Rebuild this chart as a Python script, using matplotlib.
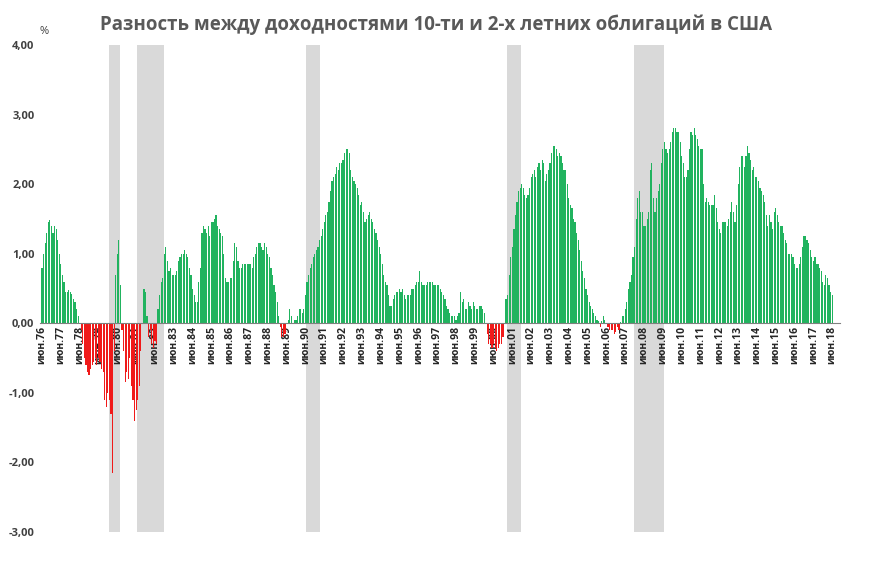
import numpy as np
import matplotlib.pyplot as plt

plt.rcParams['font.family'] = 'sans-serif'
plt.rcParams['font.sans-serif'] = ['Open Sans', 'DejaVu Sans']

# monthly spread 10y - 2y, %, starting June 1976
spread_1976 = [0.8, 1.0, 1.15, 1.3, 1.45, 1.48, 1.4]
spread_1977 = [1.3, 1.4, 1.35, 1.2, 1.0, 0.85, 0.7, 0.6, 0.45, 0.45, 0.48, 0.45]
spread_1978 = [0.42, 0.35, 0.3, 0.2, 0.1, 0.0, -0.1, -0.3, -0.5, -0.6, -0.7, -0.75]
spread_1979 = [-0.65, -0.6, -0.55, -0.5, -0.6, -0.5, -0.55, -0.65, -0.7, -1.1, -1.2, -1.0]
spread_1980 = [-1.1, -1.3, -2.15, -0.4, 0.7, 1.0, 1.2, 0.55, -0.1, -0.4, -0.85, -0.7]
spread_1981 = [-0.8, -0.5, -0.9, -1.1, -1.4, -1.25, -1.1, -0.9, -0.4, 0.0, 0.5, 0.45]
spread_1982 = [0.1, -0.2, -0.1, -0.3, -0.35, -0.25, -0.3, 0.2, 0.4, 0.6, 0.65, 1.0]
spread_1983 = [1.1, 0.9, 0.75, 0.8, 0.7, 0.7, 0.7, 0.75, 0.9, 0.95, 1.0, 1.0]
spread_1984 = [1.05, 1.0, 0.95, 0.8, 0.7, 0.5, 0.4, 0.3, 0.3, 0.6, 0.8, 1.3]
spread_1985 = [1.4, 1.35, 1.3, 1.4, 1.25, 1.45, 1.45, 1.5, 1.55, 1.4, 1.35, 1.3]
spread_1986 = [1.25, 1.0, 0.65, 0.6, 0.6, 0.65, 0.65, 0.9, 1.15, 1.1, 0.9, 0.8]
spread_1987 = [0.8, 0.85, 0.85, 0.85, 0.85, 0.85, 0.85, 0.8, 0.95, 1.0, 1.1, 1.15]
spread_1988 = [1.15, 1.1, 1.05, 1.15, 1.1, 1.0, 0.95, 0.8, 0.7, 0.55, 0.45, 0.3]
spread_1989 = [0.1, -0.05, -0.2, -0.2, -0.15, 0.0, 0.05, 0.2, 0.1, 0.0, 0.05, 0.05]
spread_1990 = [0.1, 0.2, 0.2, 0.15, 0.2, 0.4, 0.6, 0.7, 0.8, 0.85, 0.95, 1.0]
spread_1991 = [1.05, 1.1, 1.2, 1.25, 1.35, 1.45, 1.55, 1.6, 1.75, 1.9, 2.05, 2.1]
spread_1992 = [2.15, 2.25, 2.2, 2.3, 2.3, 2.35, 2.45, 2.5, 2.5, 2.45, 2.2, 2.1]
spread_1993 = [2.05, 2.0, 1.95, 1.85, 1.7, 1.75, 1.6, 1.45, 1.5, 1.55, 1.6, 1.5]
spread_1994 = [1.45, 1.35, 1.3, 1.2, 1.1, 1.0, 0.85, 0.7, 0.6, 0.55, 0.4, 0.25]
spread_1995 = [0.25, 0.35, 0.4, 0.45, 0.45, 0.5, 0.45, 0.5, 0.4, 0.35, 0.4, 0.4]
spread_1996 = [0.4, 0.5, 0.5, 0.55, 0.6, 0.6, 0.75, 0.6, 0.55, 0.55, 0.55, 0.6]
spread_1997 = [0.6, 0.6, 0.6, 0.55, 0.55, 0.55, 0.55, 0.5, 0.45, 0.4, 0.35, 0.25]
spread_1998 = [0.2, 0.15, 0.1, 0.1, 0.1, 0.05, 0.1, 0.15, 0.45, 0.3, 0.35, 0.2]
spread_1999 = [0.2, 0.3, 0.25, 0.2, 0.3, 0.25, 0.2, 0.2, 0.25, 0.25, 0.2, 0.15]
spread_2000 = [0.0, -0.15, -0.3, -0.3, -0.35, -0.3, -0.35, -0.4, -0.35, -0.3, -0.3, -0.2]
spread_2001 = [0.0, 0.35, 0.4, 0.7, 0.95, 1.1, 1.35, 1.55, 1.75, 1.9, 1.95, 2.0]
spread_2002 = [1.95, 1.85, 1.8, 1.85, 1.95, 2.1, 2.15, 2.2, 2.1, 2.25, 2.3, 2.2]
spread_2003 = [2.35, 2.3, 2.05, 2.15, 2.2, 2.3, 2.45, 2.55, 2.55, 2.5, 2.4, 2.45]
spread_2004 = [2.4, 2.3, 2.2, 2.2, 2.0, 1.8, 1.7, 1.65, 1.5, 1.45, 1.3, 1.2]
spread_2005 = [1.05, 0.9, 0.75, 0.65, 0.5, 0.4, 0.3, 0.25, 0.2, 0.15, 0.1, 0.05]
spread_2006 = [0.03, -0.05, 0.03, 0.1, 0.05, 0.0, -0.05, -0.1, -0.1, -0.1, -0.15, -0.12]
spread_2007 = [-0.05, -0.1, 0.02, 0.1, 0.1, 0.2, 0.3, 0.5, 0.6, 0.7, 0.95, 1.1]
spread_2008 = [1.5, 1.8, 1.9, 1.6, 1.6, 1.4, 1.4, 1.5, 1.6, 2.2, 2.3, 1.8]
spread_2009 = [1.6, 1.8, 1.9, 2.0, 2.3, 2.5, 2.6, 2.5, 2.45, 2.5, 2.6, 2.75]
spread_2010 = [2.8, 2.8, 2.75, 2.75, 2.6, 2.4, 2.3, 2.1, 2.1, 2.2, 2.5, 2.75]
spread_2011 = [2.7, 2.8, 2.7, 2.65, 2.55, 2.5, 2.5, 2.0, 1.75, 1.8, 1.75, 1.7]
spread_2012 = [1.7, 1.7, 1.85, 1.65, 1.45, 1.35, 1.3, 1.45, 1.45, 1.45, 1.4, 1.5]
spread_2013 = [1.6, 1.75, 1.6, 1.45, 1.7, 2.0, 2.25, 2.4, 2.4, 2.25, 2.4, 2.55]
spread_2014 = [2.45, 2.35, 2.2, 2.25, 2.1, 2.1, 2.05, 1.95, 1.9, 1.85, 1.75, 1.55]
spread_2015 = [1.4, 1.55, 1.45, 1.35, 1.6, 1.65, 1.55, 1.45, 1.4, 1.4, 1.3, 1.2]
spread_2016 = [1.15, 1.0, 1.0, 1.0, 0.95, 0.85, 0.8, 0.8, 0.85, 0.95, 1.1, 1.25]
spread_2017 = [1.25, 1.2, 1.15, 1.05, 0.95, 0.9, 0.95, 0.85, 0.85, 0.8, 0.75, 0.6]
spread_2018 = [0.55, 0.7, 0.65, 0.55, 0.45, 0.4]

spread = np.array(
    spread_1976 + spread_1977 + spread_1978 + spread_1979 + spread_1980 + spread_1981
    + spread_1982 + spread_1983 + spread_1984 + spread_1985 + spread_1986 + spread_1987
    + spread_1988 + spread_1989 + spread_1990 + spread_1991 + spread_1992 + spread_1993
    + spread_1994 + spread_1995 + spread_1996 + spread_1997 + spread_1998 + spread_1999
    + spread_2000 + spread_2001 + spread_2002 + spread_2003 + spread_2004 + spread_2005
    + spread_2006 + spread_2007 + spread_2008 + spread_2009 + spread_2010 + spread_2011
    + spread_2012 + spread_2013 + spread_2014 + spread_2015 + spread_2016 + spread_2017
    + spread_2018
)

# recessions (start, end) as (year, month)
recessions = [((1980, 1), (1980, 7)), ((1981, 7), (1982, 11)), ((1990, 7), (1991, 3)),
              ((2001, 3), (2001, 11)), ((2007, 12), (2009, 6))]

tick_years = list(range(1976, 2019))
tick_labels = [f"июн.{y % 100:02d}" for y in tick_years]


def month_idx(y, m):
    return (y - 1976) * 12 + (m - 6)


fig = plt.figure(figsize=(8.72, 5.71), dpi=100)
ax = fig.add_axes([40 / 872, 1 - 532 / 571, 800 / 872, 487 / 571])

for (y0, m0), (y1, m1) in recessions:
    ax.axvspan(month_idx(y0, m0) - 0.5, month_idx(y1, m1) + 0.5, color='#d9d9d9', lw=0, zorder=0)

x = np.arange(len(spread))
colors = np.where(spread >= 0, '#21b35f', '#f01a1a')
ax.bar(x, spread, width=0.75, color=colors, zorder=2)

for s in ['top', 'right', 'left']:
    ax.spines[s].set_visible(False)
# set spine position first: it resets the tick settings
ax.spines['bottom'].set_position(('data', 0))
ax.spines['bottom'].set_color('#808080')
ax.spines['bottom'].set_zorder(3)

ax.set_xlim(-1.3, 509)
ax.set_ylim(-3, 4)
ax.set_yticks(np.arange(-3, 5))
ax.set_yticklabels([f"{v:.2f}".replace('.', ',') for v in np.arange(-3, 5)],
                   fontsize=8, fontweight='bold', color='#404040')
ax.set_xticks([month_idx(y, 6) for y in tick_years])
ax.set_xticklabels(tick_labels, rotation=90, fontsize=7.5, fontweight='bold',
                   color='#262626', va='top', ha='center')
ax.tick_params(axis='x', length=0, pad=2)
ax.tick_params(axis='y', length=0, pad=4)
for lbl in ax.get_xticklabels():
    lbl.set_zorder(4)

fig.text(0.045, 0.94, '%', fontsize=8, color='#404040')
fig.suptitle('Разность между доходностями 10-ти и 2-х летних облигаций в США',
             y=0.975, fontsize=13.5, fontweight='bold', color='#595959')

fig.savefig('out.png', dpi=100)
